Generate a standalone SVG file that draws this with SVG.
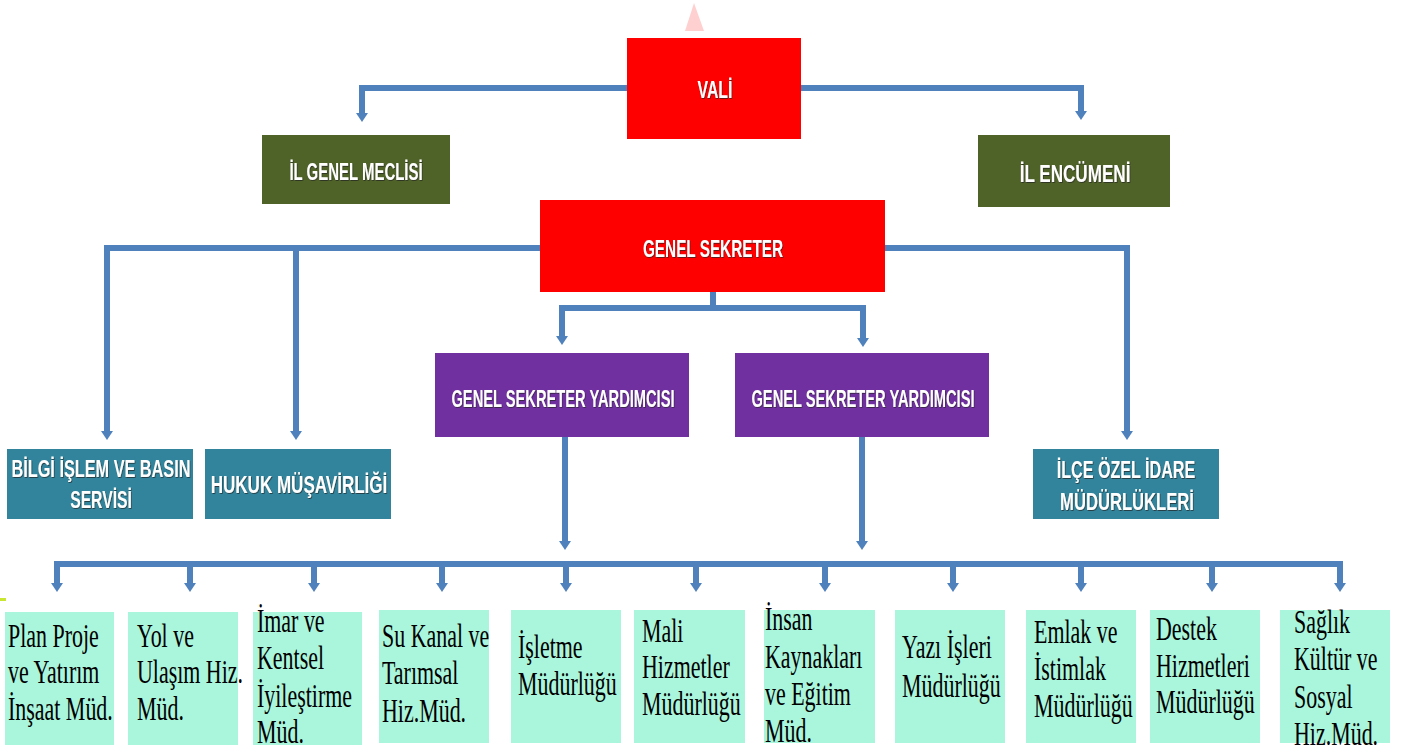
<svg xmlns="http://www.w3.org/2000/svg" width="1411" height="755" viewBox="0 0 1411 755">
<style>
.red{fill:#FF0000}
.olive{fill:#4F6228}
.purple{fill:#7030A0}
.teal{fill:#31849B}
.aqua{fill:#AAF6DC}
.lbl{font-family:"Liberation Sans",Arial,sans-serif;font-weight:bold;font-size:24px;fill:#FFFFFF;text-anchor:middle;filter:url(#sh)}
.st{font-family:"Liberation Serif","Times New Roman",serif;font-size:33px;fill:#000000}
.ln{fill:none;stroke:#4F81BD;stroke-width:6;stroke-linejoin:miter}
.arr{marker-end:url(#ah)}
</style>
<defs>
<marker id="ah" viewBox="0 0 9 12" refX="0" refY="6" markerWidth="9" markerHeight="12" markerUnits="userSpaceOnUse" orient="auto">
<path d="M0,0 L9,6 L0,12 z" fill="#4F81BD"/>
</marker>
<filter id="sh" x="-10%" y="-30%" width="120%" height="160%">
<feDropShadow dx="1" dy="1" stdDeviation="0.6" flood-color="#202020" flood-opacity="0.7"/>
</filter>
</defs>
<rect width="1411" height="755" fill="#FFFFFF"/>
<polygon points="694,3 704,31 685,31" fill="#FFD0D0"/>
<rect x="0" y="598" width="6" height="3" fill="#C8E632"/>

<g id="connectors">
<path class="ln arr" d="M627,88 H362 V113"/>
<path class="ln arr" d="M801,88 H1081 V111"/>
<path class="ln arr" d="M540,248 H107 V431"/>
<path class="ln arr" d="M296,248 V431"/>
<path class="ln arr" d="M885,248 H1127 V431"/>
<path class="ln" d="M713,292 V308"/>
<path class="ln arr" d="M713,308 H562 V336"/>
<path class="ln arr" d="M713,308 H863 V338"/>
<path class="ln arr" d="M565,437 V541"/>
<path class="ln arr" d="M862,437 V541"/>
<path class="ln arr" d="M698,564 H57 V583"/>
<path class="ln arr" d="M698,564 H1340 V583"/>
<path class="ln arr" d="M190,564 V583"/>
<path class="ln arr" d="M314,564 V583"/>
<path class="ln arr" d="M442,564 V583"/>
<path class="ln arr" d="M566,564 V583"/>
<path class="ln arr" d="M696,564 V583"/>
<path class="ln arr" d="M825,564 V583"/>
<path class="ln arr" d="M953,564 V583"/>
<path class="ln arr" d="M1081,564 V583"/>
<path class="ln arr" d="M1212,564 V583"/>
</g>

<g id="vali"><rect class="red" x="627" y="38" width="174" height="101"/><text class="lbl" transform="translate(715 98) scale(0.658 1)" x="0" y="0">VALİ</text></g>
<g id="il-genel-meclisi"><rect class="olive" x="262" y="135" width="188" height="69"/><text class="lbl" transform="translate(356 180) scale(0.623 1)" x="0" y="0">İL GENEL MECLİSİ</text></g>
<g id="il-encumeni"><rect class="olive" x="978" y="135" width="192" height="72"/><text class="lbl" transform="translate(1075 182) scale(0.712 1)" x="0" y="0">İL ENCÜMENİ</text></g>
<g id="genel-sekreter"><rect class="red" x="540" y="200" width="345" height="92"/><text class="lbl" transform="translate(713 257) scale(0.638 1)" x="0" y="0">GENEL SEKRETER</text></g>
<g id="gsy-1"><rect class="purple" x="435" y="353" width="254" height="84"/><text class="lbl" transform="translate(563 407) scale(0.612 1)" x="0" y="0">GENEL SEKRETER YARDIMCISI</text></g>
<g id="gsy-2"><rect class="purple" x="735" y="353" width="254" height="84"/><text class="lbl" transform="translate(863 407) scale(0.612 1)" x="0" y="0">GENEL SEKRETER YARDIMCISI</text></g>
<g id="bilgi-islem"><rect class="teal" x="7" y="449" width="186" height="70"/><text class="lbl" transform="translate(101 477) scale(0.678 1)" x="0" y="0">BİLGİ İŞLEM VE BASIN</text><text class="lbl" transform="translate(101 508) scale(0.655 1)" x="0" y="0">SERVİSİ</text></g>
<g id="hukuk"><rect class="teal" x="205" y="449" width="186" height="70"/><text class="lbl" transform="translate(299 493) scale(0.71 1)" x="0" y="0">HUKUK MÜŞAVİRLİĞİ</text></g>
<g id="ilce-ozel-idare"><rect class="teal" x="1033" y="449" width="186" height="70"/><text class="lbl" transform="translate(1126 478) scale(0.672 1)" x="0" y="0">İLÇE ÖZEL İDARE</text><text class="lbl" transform="translate(1127 510) scale(0.693 1)" x="0" y="0">MÜDÜRLÜKLERİ</text></g>

<g id="plan-proje"><rect class="aqua" x="5" y="612" width="109" height="133"/><text class="st" transform="translate(8 647) scale(0.665 1)"><tspan x="0" y="0">Plan Proje</tspan><tspan x="0" y="36">ve  Yatırım</tspan><tspan x="0" y="73">İnşaat Müd.</tspan></text></g>
<g id="yol-ulasim"><rect class="aqua" x="128" y="612" width="110" height="133"/><text class="st" transform="translate(137 647) scale(0.665 1)"><tspan x="0" y="0">Yol ve</tspan><tspan x="0" y="36">Ulaşım Hiz.</tspan><tspan x="0" y="73">Müd.</tspan></text></g>
<g id="imar"><rect class="aqua" x="253" y="612" width="109" height="133"/><text class="st" transform="translate(257 632) scale(0.665 1)"><tspan x="0" y="0">İmar ve</tspan><tspan x="0" y="37">Kentsel</tspan><tspan x="0" y="75">İyileştirme</tspan><tspan x="0" y="111">Müd.</tspan></text></g>
<g id="su-kanal"><rect class="aqua" x="379" y="610" width="110" height="133"/><text class="st" transform="translate(382 647) scale(0.665 1)"><tspan x="0" y="0">Su Kanal ve</tspan><tspan x="0" y="37">Tarımsal</tspan><tspan x="0" y="75">Hiz.Müd.</tspan></text></g>
<g id="isletme"><rect class="aqua" x="511" y="610" width="110" height="133"/><text class="st" transform="translate(518 658) scale(0.665 1)"><tspan x="0" y="0">İşletme</tspan><tspan x="0" y="37">Müdürlüğü</tspan></text></g>
<g id="mali"><rect class="aqua" x="634" y="610" width="111" height="133"/><text class="st" transform="translate(642 642) scale(0.665 1)"><tspan x="0" y="0">Mali</tspan><tspan x="0" y="36">Hizmetler</tspan><tspan x="0" y="73">Müdürlüğü</tspan></text></g>
<g id="insan-kaynaklari"><rect class="aqua" x="764" y="610" width="111" height="133"/><text class="st" transform="translate(765 630) scale(0.665 1)"><tspan x="0" y="0">İnsan</tspan><tspan x="0" y="38">Kaynakları</tspan><tspan x="0" y="75">ve Eğitim</tspan><tspan x="0" y="112">Müd.</tspan></text></g>
<g id="yazi-isleri"><rect class="aqua" x="895" y="610" width="110" height="133"/><text class="st" transform="translate(902 658) scale(0.665 1)"><tspan x="0" y="0">Yazı İşleri</tspan><tspan x="0" y="39">Müdürlüğü</tspan></text></g>
<g id="emlak"><rect class="aqua" x="1026" y="610" width="110" height="133"/><text class="st" transform="translate(1034 643) scale(0.665 1)"><tspan x="0" y="0">Emlak ve</tspan><tspan x="0" y="37">İstimlak</tspan><tspan x="0" y="74">Müdürlüğü</tspan></text></g>
<g id="destek"><rect class="aqua" x="1150" y="610" width="110" height="133"/><text class="st" transform="translate(1156 640) scale(0.665 1)"><tspan x="0" y="0">Destek</tspan><tspan x="0" y="37">Hizmetleri</tspan><tspan x="0" y="73">Müdürlüğü</tspan></text></g>
<g id="saglik"><rect class="aqua" x="1280" y="610" width="110" height="133"/><text class="st" transform="translate(1294 633) scale(0.665 1)"><tspan x="0" y="0">Sağlık</tspan><tspan x="0" y="37">Kültür ve</tspan><tspan x="0" y="75">Sosyal</tspan><tspan x="0" y="112">Hiz.Müd.</tspan></text></g>
</svg>
